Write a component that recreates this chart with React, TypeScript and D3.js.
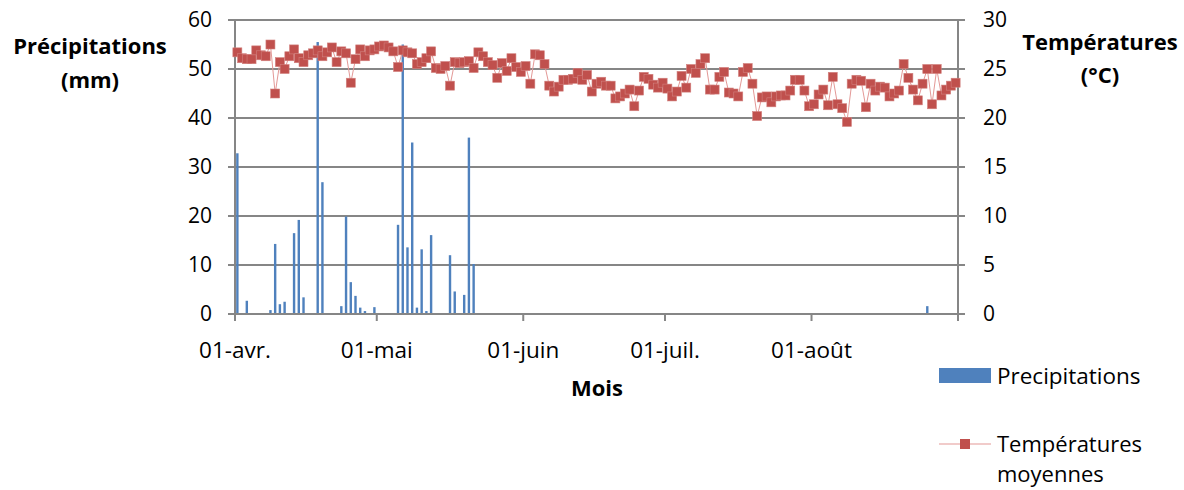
import React from "react";
import * as d3 from "d3";

const startDate = new Date(2013, 3, 1);
const endDate = new Date(2013, 8, 1);
const monthTicks = ["01-avr.", "01-mai", "01-juin", "01-juil.", "01-août"];
const monthTickDates = [new Date(2013, 3, 1), new Date(2013, 4, 1), new Date(2013, 5, 1), new Date(2013, 6, 1), new Date(2013, 7, 1)];
const leftTicks = [0, 10, 20, 30, 40, 50, 60];
const rightTicks = [0, 5, 10, 15, 20, 25, 30];

// precipitation: day offset from 1 April, amount (mm)
const precipDay = [0, 2, 7, 8, 9, 10, 12, 13, 14, 17, 18, 22, 23, 24, 25, 26, 27, 29, 34, 35, 36, 37, 38, 39, 40, 41, 45, 46, 48, 49, 50, 146];
const precipMm = [32.8, 2.7, 0.8, 14.3, 2.0, 2.5, 16.5, 19.2, 3.4, 55.5, 26.9, 1.6, 19.9, 6.5, 3.7, 1.3, 0.6, 1.4, 18.2, 55.0, 13.6, 35.0, 1.3, 13.2, 0.6, 16.1, 12.0, 4.6, 3.9, 36.0, 10.2, 1.6];

// daily mean temperature (°C), 1 April .. 31 August
const tempC = [
  26.7, 26.1, 26.0, 26.0, 26.9, 26.4, 26.3, 27.5, 22.5, 25.7,
  25.0, 26.3, 27.0, 26.1, 25.7, 26.4, 26.6, 26.9, 26.3, 26.7,
  27.2, 25.7, 26.8, 26.6, 23.6, 26.0, 27.0, 26.3, 26.9, 27.0,
  27.3, 27.4, 27.2, 26.8, 25.2, 26.9, 26.7, 26.6, 25.5, 25.7,
  26.1, 26.8, 25.1, 25.0, 25.3, 23.3, 25.7, 25.6, 25.7, 25.8,
  25.1, 26.7, 26.3, 25.7, 25.4, 24.1, 25.6, 24.8, 26.1, 25.2,
  24.7, 25.3, 23.5, 26.5, 26.4, 25.5, 23.3, 22.7, 23.2, 23.9,
  23.9, 24.0, 24.6, 23.9, 24.4, 22.7, 23.5, 23.7, 23.3, 23.3,
  22.0, 22.2, 22.5, 22.9, 21.2, 22.8, 24.2, 24.0, 23.4, 23.1,
  23.6, 23.0, 22.2, 22.7, 24.3, 23.1, 25.0, 24.6, 25.5, 26.1,
  22.9, 22.9, 24.2, 24.7, 22.6, 22.5, 22.2, 24.7, 25.1, 23.5,
  20.2, 22.1, 22.2, 21.6, 22.2, 22.3, 22.3, 22.8, 23.9, 23.9,
  22.8, 21.2, 21.4, 22.4, 22.9, 21.3, 24.2, 21.4, 21.0, 19.6,
  23.5, 23.9, 23.8, 21.1, 23.5, 22.8, 23.2, 23.1, 22.2, 22.5,
  22.8, 25.5, 24.1, 22.9, 21.8, 23.5, 25.0, 21.4, 25.0, 22.3,
  22.9, 23.3, 23.6,
];

const FONT = "'Open Sans', 'Noto Sans', sans-serif";
const GRID = "#868686";
const BLUE = "#4F81BD";
const RED = "#C0504D";

const dayDate = (d: number) => d3.timeDay.offset(startDate, d);

export default function App() {
  const left = 235, right = 958, top = 20, bottom = 314;
  const x = d3.scaleTime().domain([startDate, endDate]).range([left, right]);
  const yL = d3.scaleLinear().domain([0, 60]).range([bottom, top]);
  const yR = d3.scaleLinear().domain([0, 30]).range([bottom, top]);
  const mid = (d: number) => x(d3.timeHour.offset(dayDate(d), 12));

  const line = d3.line<number>().x((_, i) => mid(i)).y((v) => yR(v));

  return (
    <svg width={1184} height={490} style={{ position: "absolute", left: 0, top: 0, fontFamily: FONT }}>
      <rect x={0} y={0} width={1184} height={490} fill="#fff" />
      {/* gridlines */}
      {leftTicks.slice(1).map((t) => (
        <line key={"g" + t} x1={left} x2={right} y1={yL(t)} y2={yL(t)} stroke={GRID} strokeWidth={2} />
      ))}
      {/* bars */}
      {precipDay.map((d, i) => (
        <rect key={"b" + i} x={mid(d) - 1.2} width={2.4} y={yL(precipMm[i])} height={bottom - yL(precipMm[i])} fill={BLUE} />
      ))}
      {/* axes */}
      <line x1={left} x2={left} y1={top} y2={bottom + 7} stroke={GRID} strokeWidth={2} />
      <line x1={right} x2={right} y1={top} y2={bottom + 7} stroke={GRID} strokeWidth={2} />
      <line x1={left} x2={right} y1={bottom} y2={bottom} stroke={GRID} strokeWidth={2} />
      {leftTicks.map((t) => (
        <g key={"l" + t}>
          <line x1={left - 7} x2={left} y1={yL(t)} y2={yL(t)} stroke={GRID} strokeWidth={2} />
          <text x={212} y={yL(t)} dy="0.35em" textAnchor="end" fontSize={21} fill="#000">{t}</text>
        </g>
      ))}
      {rightTicks.map((t) => (
        <g key={"r" + t}>
          <line x1={right} x2={right + 7} y1={yR(t)} y2={yR(t)} stroke={GRID} strokeWidth={2} />
          <text x={983} y={yR(t)} dy="0.35em" textAnchor="start" fontSize={21} fill="#000">{t}</text>
        </g>
      ))}
      {monthTickDates.map((d, i) => (
        <g key={"m" + i}>
          <line x1={x(d)} x2={x(d)} y1={bottom} y2={bottom + 7} stroke={GRID} strokeWidth={2} />
          <text x={x(d)} y={358} textAnchor="middle" fontSize={22.5} fill="#000">{monthTicks[i]}</text>
        </g>
      ))}
      {/* temperature line */}
      <path d={line(tempC) || ""} fill="none" stroke="#E39896" strokeWidth={1} />
      {tempC.map((v, i) => (
        <rect key={"t" + i} x={mid(i) - 4.5} y={yR(v) - 4.5} width={9} height={9} fill={RED} stroke="#D2807E" strokeWidth={0.6} />
      ))}
      {/* axis titles */}
      <text x={90} y={54} textAnchor="middle" fontSize={22} fontWeight="bold">Précipitations</text>
      <text x={90} y={88} textAnchor="middle" fontSize={22} fontWeight="bold">(mm)</text>
      <text x={1100} y={50} textAnchor="middle" fontSize={22} fontWeight="bold">Températures</text>
      <text x={1100} y={83} textAnchor="middle" fontSize={22} fontWeight="bold">(°C)</text>
      <text x={597} y={396} textAnchor="middle" fontSize={22} fontWeight="bold">Mois</text>
      {/* legend */}
      <rect x={939} y={368} width={52} height={15} fill={BLUE} />
      <text x={997} y={384} fontSize={22.5}>Precipitations</text>
      <line x1={939} x2={991} y1={444} y2={444} stroke="#E39896" strokeWidth={1.2} />
      <rect x={960} y={439} width={10} height={10} fill={RED} />
      <text x={997} y={452} fontSize={22}>Températures</text>
      <text x={997} y={482} fontSize={22}>moyennes</text>
    </svg>
  );
}
